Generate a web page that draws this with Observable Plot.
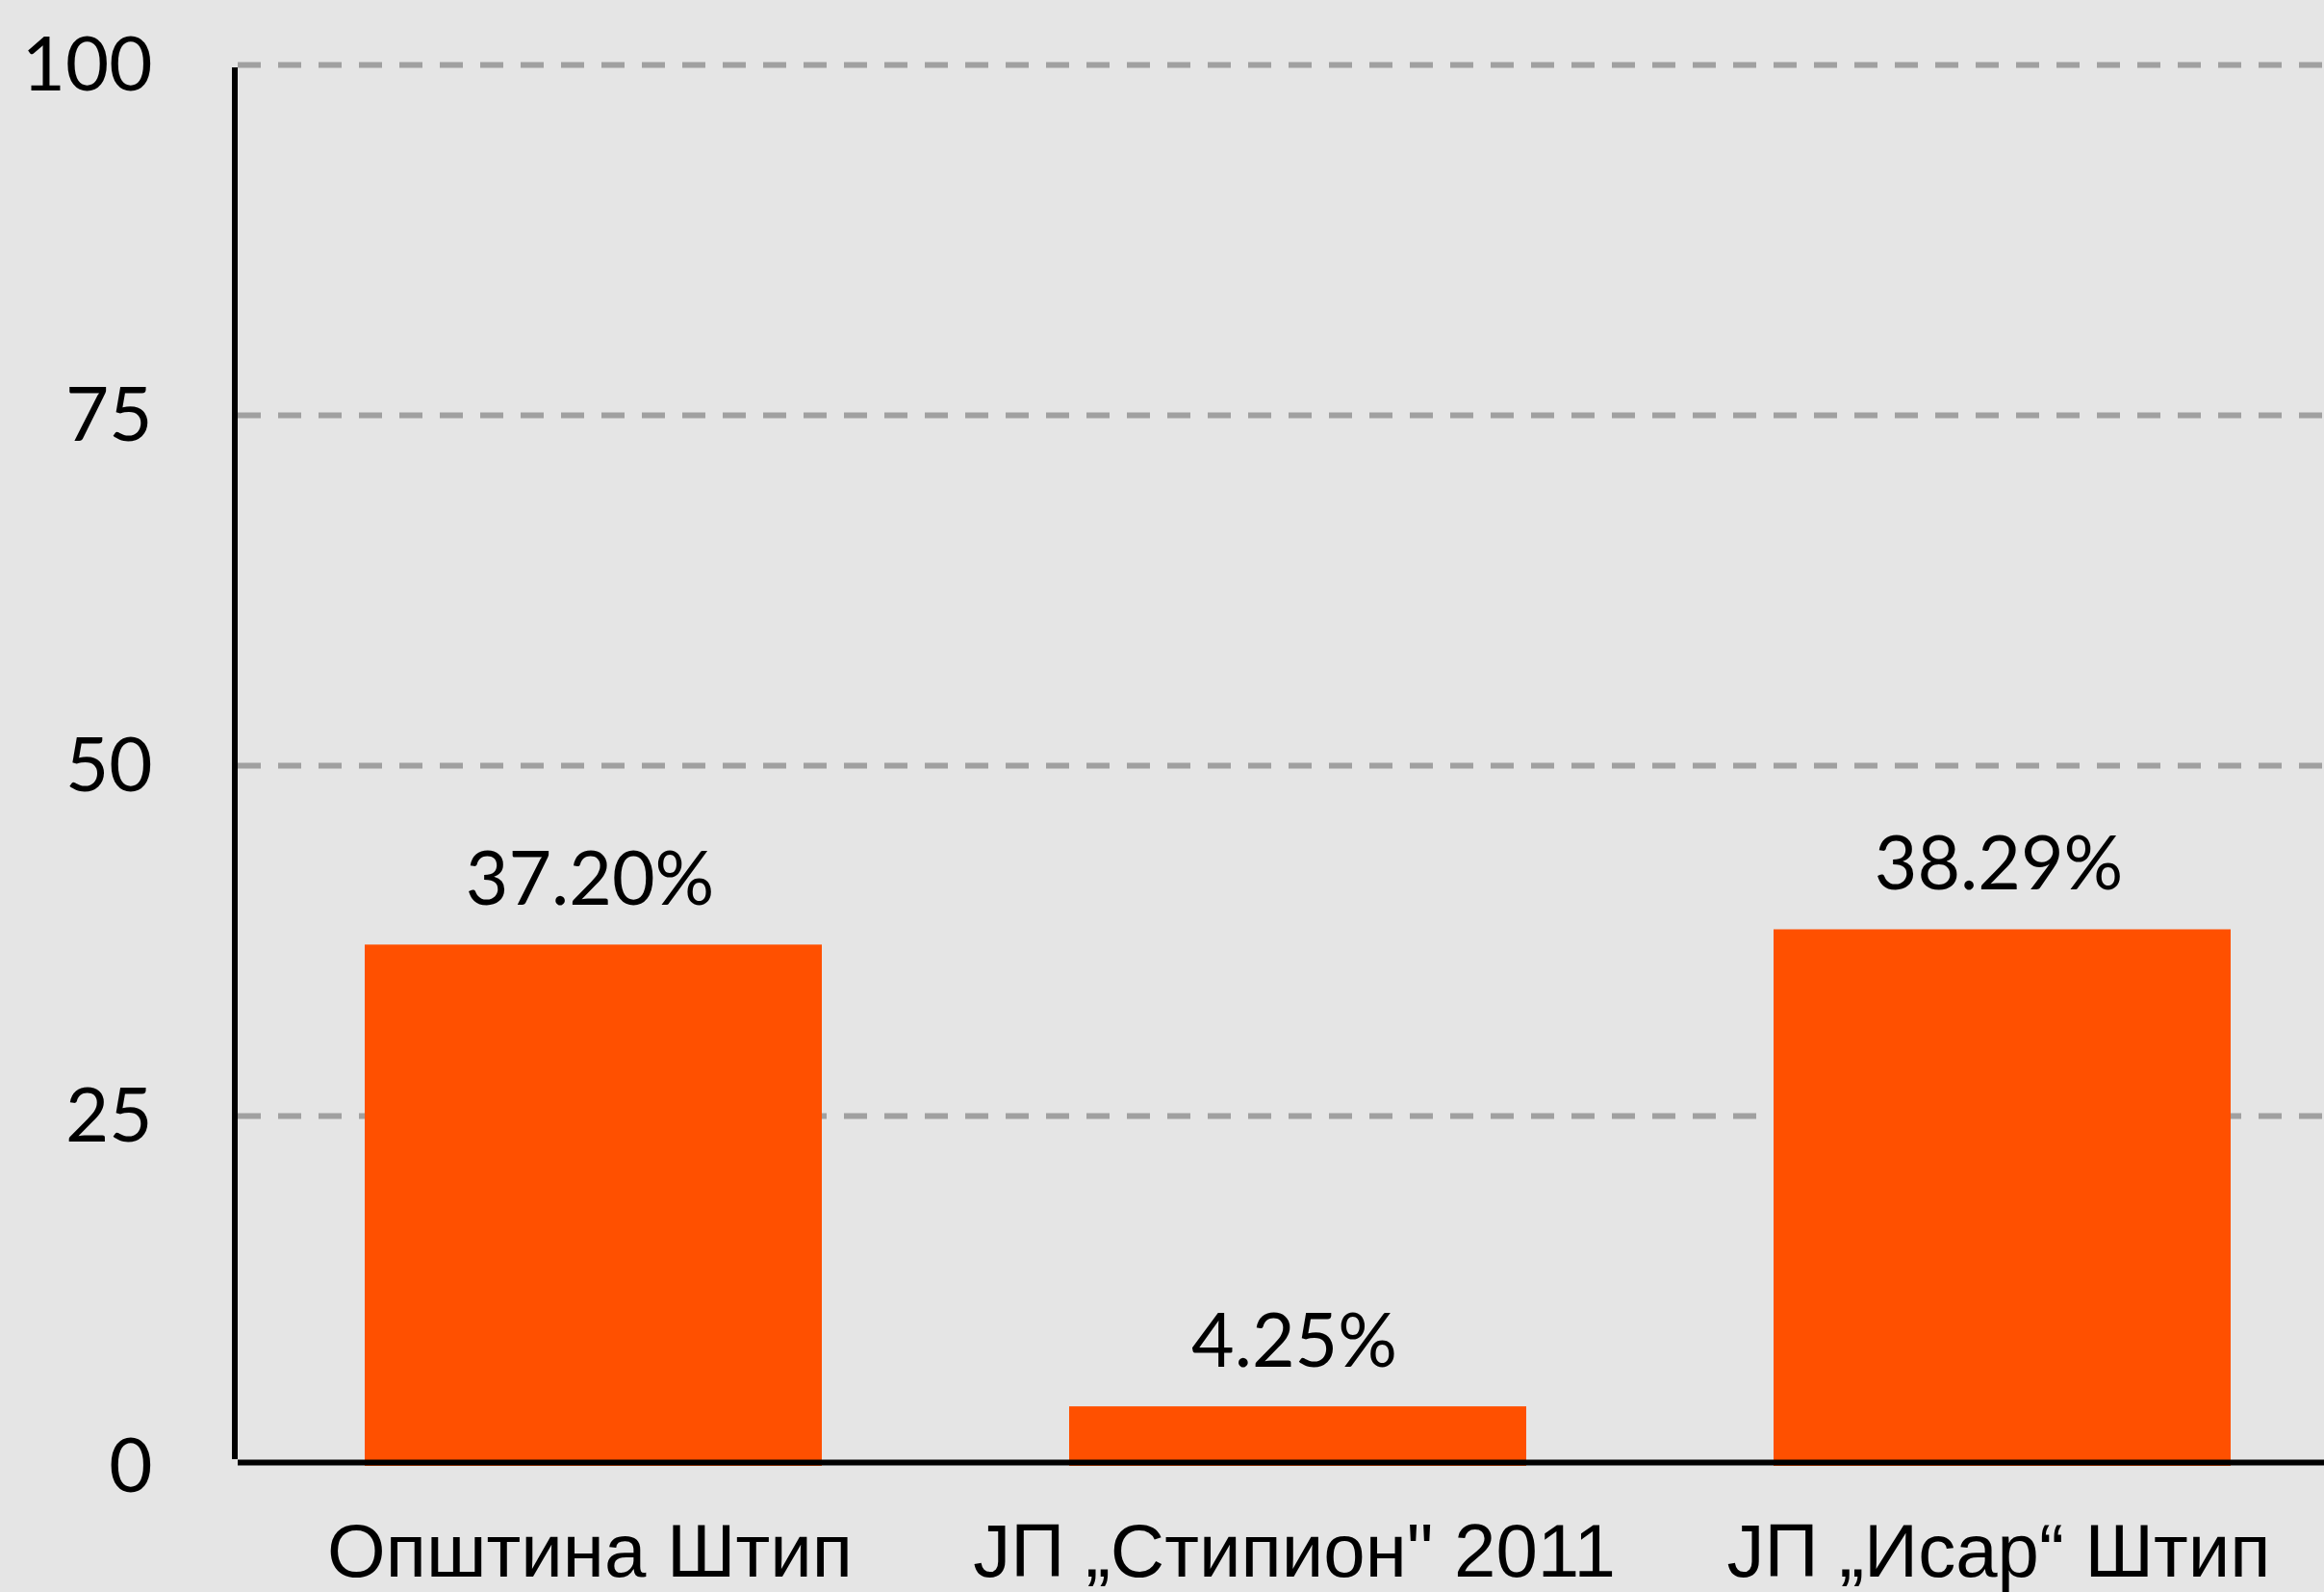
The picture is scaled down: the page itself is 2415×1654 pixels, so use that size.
<!DOCTYPE html>
<html><head><meta charset="utf-8">
<script src="https://cdn.jsdelivr.net/npm/d3@7"></script>
<script src="https://cdn.jsdelivr.net/npm/@observablehq/plot@0.6"></script>
<style>html,body{margin:0;padding:0;background:#e5e5e5;overflow:hidden}</style>
</head><body><div id="chart"></div>
<script>
const categories = ["Општина Штип", "ЈП „Стипион\" 2011", "ЈП „Исар“ Штип"];
const values = [37.20, 4.25, 38.29];
const valueLabels = ["37.20%", "4.25%", "38.29%"];
const yTicks = [0, 25, 50, 75, 100];

const data = categories.map((c, i) => ({category: c, value: values[i], label: valueLabels[i]}));

function yAxisLine(index, scales, values, dimensions) {
  const line = document.createElementNS("http://www.w3.org/2000/svg", "line");
  const x = dimensions.marginLeft - 3;
  line.setAttribute("x1", x);
  line.setAttribute("x2", x);
  line.setAttribute("y1", scales.y(100) + 3);
  line.setAttribute("y2", scales.y(0) - 7);
  line.setAttribute("stroke", "#000");
  line.setAttribute("stroke-width", 6);
  return line;
}

const chart = Plot.plot({
  width: 2415, height: 1654,
  marginTop: 67, marginBottom: 131, marginLeft: 247, marginRight: 0,
  style: {background: "#e5e5e5", color: "#000"},
  x: {domain: categories, range: [247, 2450], paddingInner: 0.3515, paddingOuter: 0.1795},
  y: {domain: [0, 100]},
  marks: [
    Plot.ruleY(yTicks.filter(d => d > 0), {stroke: "#a0a0a0", strokeWidth: 6, strokeDasharray: "24,18"}),
    Plot.barY(data, {x: "category", y: "value", fill: "#ff5000"}),
    Plot.ruleY([0], {stroke: "#000", strokeWidth: 6, dy: -4}),
    yAxisLine,
    Plot.text(data, {x: "category", y: "value", text: "label", lineAnchor: "bottom", dy: -42, dx: -4, fontFamily: "Lato", fontSize: 77, fill: "#000"}),
    Plot.axisY({ticks: yTicks, tickSize: 0, tickPadding: 89, fontFamily: "Lato", fontSize: 78, dy: 2, label: null}),
    Plot.axisX({tickSize: 0, tickPadding: 59, fontFamily: "Liberation Sans", fontSize: 78, dx: -4, label: null})
  ]
});
document.getElementById("chart").appendChild(chart);
</script>
</body></html>
